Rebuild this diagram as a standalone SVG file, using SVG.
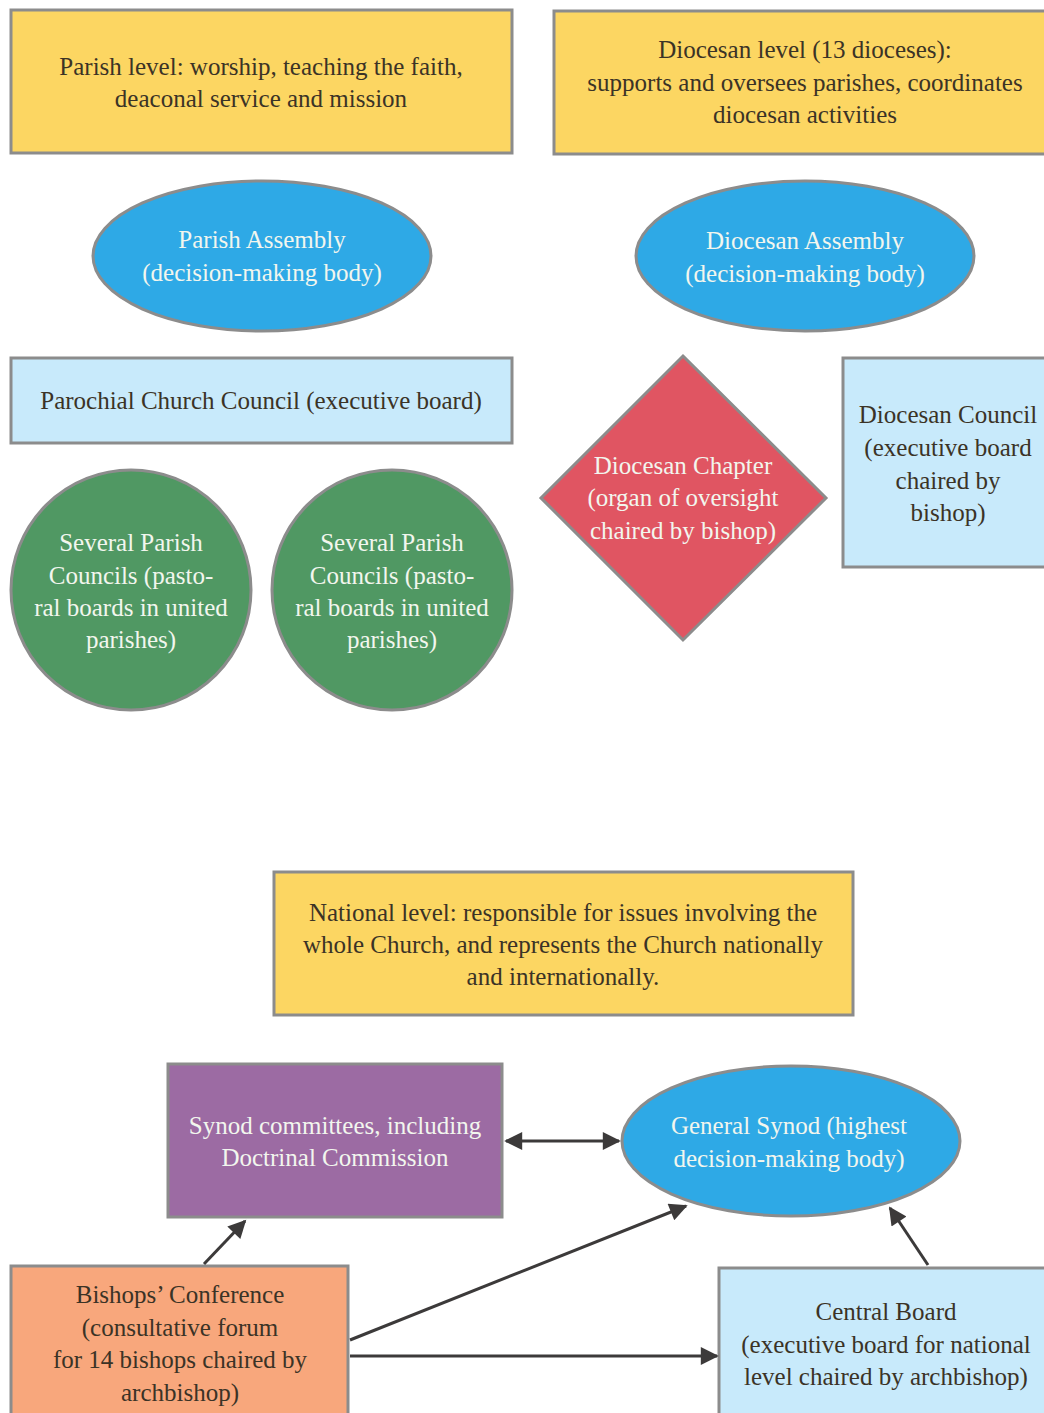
<svg xmlns="http://www.w3.org/2000/svg" width="1044" height="1413" viewBox="0 0 1044 1413" font-family="'Liberation Serif', 'DejaVu Serif', serif">
<defs>
<style>
.box{stroke:#8c8c8c;stroke-width:3}
.yel{fill:#fcd662}
.blue{fill:#2ea9e6}
.lblue{fill:#c8eafb}
.green{fill:#509863}
.red{fill:#e05562}
.purple{fill:#9c6ba3}
.orange{fill:#f8a77c}
.t{font-family:'Liberation Serif','DejaVu Serif',serif;font-size:25px;text-anchor:middle}
.dk{fill:#3b3326}
.wt{fill:#f2f6ee}
.conn{stroke:#3c3a3a;stroke-width:3;fill:none}
</style>
<marker id="ah" viewBox="0 0 10 10" refX="9" refY="5" markerWidth="7" markerHeight="6" orient="auto-start-reverse" markerUnits="strokeWidth">
<path d="M0,0 L10,5 L0,10 z" fill="#3c3a3a"/>
</marker>
</defs>
<rect width="1044" height="1413" fill="#ffffff"/>

<g id="parish-level">
<rect class="box yel" x="11" y="10" width="501" height="143"/>
<text class="t dk" x="261" y="75">Parish level: worship, teaching the faith,</text>
<text class="t dk" x="261" y="107">deaconal service and mission</text>
</g>

<g id="diocesan-level">
<rect class="box yel" x="554" y="11" width="500" height="143"/>
<text class="t dk" x="805" y="58">Diocesan level (13 dioceses):</text>
<text class="t dk" x="805" y="91">supports and oversees parishes, coordinates</text>
<text class="t dk" x="805" y="123">diocesan activities</text>
</g>

<g id="parish-assembly">
<ellipse class="box blue" cx="262" cy="256" rx="169" ry="75"/>
<text class="t wt" x="262" y="248">Parish Assembly</text>
<text class="t wt" x="262" y="281">(decision-making body)</text>
</g>

<g id="diocesan-assembly">
<ellipse class="box blue" cx="805" cy="256" rx="169" ry="75"/>
<text class="t wt" x="805" y="249">Diocesan Assembly</text>
<text class="t wt" x="805" y="282">(decision-making body)</text>
</g>

<g id="parochial-church-council">
<rect class="box lblue" x="11" y="358" width="501" height="85"/>
<text class="t dk" x="261" y="409">Parochial Church Council (executive board)</text>
</g>

<g id="parish-councils-1">
<circle class="box green" cx="131" cy="590" r="120"/>
<text class="t wt" x="131" y="551">Several Parish</text>
<text class="t wt" x="131" y="584">Councils (pasto-</text>
<text class="t wt" x="131" y="616">ral boards in united</text>
<text class="t wt" x="131" y="648">parishes)</text>
</g>

<g id="parish-councils-2">
<circle class="box green" cx="392" cy="590" r="120"/>
<text class="t wt" x="392" y="551">Several Parish</text>
<text class="t wt" x="392" y="584">Councils (pasto-</text>
<text class="t wt" x="392" y="616">ral boards in united</text>
<text class="t wt" x="392" y="648">parishes)</text>
</g>

<g id="diocesan-chapter">
<polygon class="box red" points="683,356 826,498 683,640 541,498"/>
<text class="t wt" x="683" y="474">Diocesan Chapter</text>
<text class="t wt" x="683" y="506">(organ of oversight</text>
<text class="t wt" x="683" y="539">chaired by bishop)</text>
</g>

<g id="diocesan-council">
<rect class="box lblue" x="843" y="358" width="210" height="209"/>
<text class="t dk" x="948" y="423">Diocesan Council</text>
<text class="t dk" x="948" y="456">(executive board</text>
<text class="t dk" x="948" y="489">chaired by</text>
<text class="t dk" x="948" y="521">bishop)</text>
</g>

<g id="national-level">
<rect class="box yel" x="274" y="872" width="579" height="143"/>
<text class="t dk" x="563" y="921">National level: responsible for issues involving the</text>
<text class="t dk" x="563" y="953">whole Church, and represents the Church nationally</text>
<text class="t dk" x="563" y="985">and internationally.</text>
</g>

<g id="synod-committees">
<rect class="box purple" x="168" y="1064" width="334" height="153"/>
<text class="t wt" x="335" y="1134">Synod committees, including</text>
<text class="t wt" x="335" y="1166">Doctrinal Commission</text>
</g>

<g id="general-synod">
<ellipse class="box blue" cx="791" cy="1141" rx="169" ry="75"/>
<text class="t wt" x="789" y="1134">General Synod (highest</text>
<text class="t wt" x="789" y="1167">decision-making body)</text>
</g>

<g id="bishops-conference">
<rect class="box orange" x="11" y="1266" width="337" height="160"/>
<text class="t dk" x="180" y="1303">Bishops’ Conference</text>
<text class="t dk" x="180" y="1336">(consultative forum</text>
<text class="t dk" x="180" y="1368">for 14 bishops chaired by</text>
<text class="t dk" x="180" y="1401">archbishop)</text>
</g>

<g id="central-board">
<rect class="box lblue" x="719" y="1268" width="335" height="160"/>
<text class="t dk" x="886" y="1320">Central Board</text>
<text class="t dk" x="886" y="1353">(executive board for national</text>
<text class="t dk" x="886" y="1385">level chaired by archbishop)</text>
</g>

<g id="connectors">
<line class="conn" x1="506" y1="1141" x2="619" y2="1141" marker-start="url(#ah)" marker-end="url(#ah)"/>
<line class="conn" x1="204" y1="1264" x2="245" y2="1221" marker-end="url(#ah)"/>
<line class="conn" x1="350" y1="1340" x2="686" y2="1206" marker-end="url(#ah)"/>
<line class="conn" x1="350" y1="1356" x2="717" y2="1356" marker-end="url(#ah)"/>
<line class="conn" x1="928" y1="1265" x2="890" y2="1208" marker-end="url(#ah)"/>
</g>
</svg>
